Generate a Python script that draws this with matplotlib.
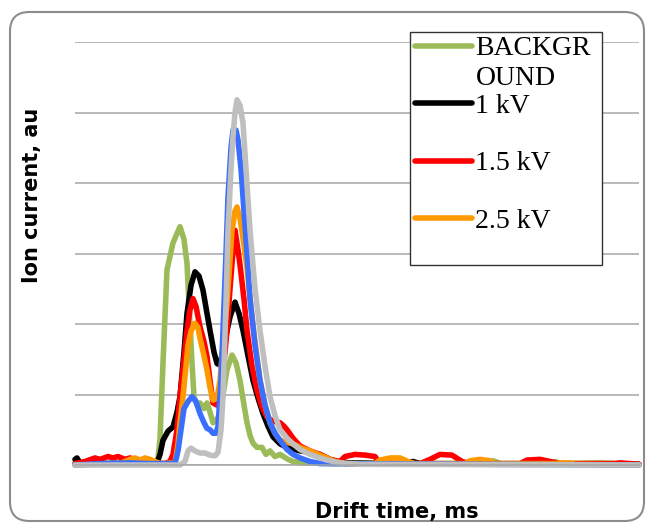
import matplotlib
matplotlib.use("Agg")
import matplotlib.pyplot as plt
from matplotlib.lines import Line2D
from matplotlib.patches import FancyBboxPatch, Rectangle

# ---- data (drift time in ms, ion current in au) ----
bg_t = [0, 1.25, 2.75, 3.75, 4.1, 4.15, 4.25, 4.4, 4.6, 4.9, 5.05, 5.25, 5.45, 5.6, 5.75, 5.85, 5.95,
        6.1, 6.25, 6.45, 6.6, 6.75, 6.9, 7.1, 7.25, 7.4, 7.6, 7.85, 8.05, 8.25, 8.45, 8.6, 8.75,
        8.9, 9.1, 9.35, 9.55, 9.75, 10.0, 10.25, 10.65, 10.9, 11.25, 13.0, 20.5, 20.9, 21.3,
        23.8, 24.0, 24.3, 26.25, 28.2]
bg_i = [0.03, 0.02, 0.03, 0.03, 0.05, 0.1, 0.37, 1.45, 2.77, 3.15, 3.25, 3.38, 3.2, 2.86, 2.0, 1.45, 0.97,
        0.85, 0.88, 0.8, 0.88, 0.75, 0.6, 0.65, 0.73, 1.0, 1.35, 1.56, 1.45, 1.2, 0.85, 0.6, 0.42,
        0.31, 0.25, 0.25, 0.15, 0.2, 0.12, 0.15, 0.08, 0.05, 0.03, 0.02, 0.02, 0.06, 0.02,
        0.02, 0.05, 0.02, 0.03, 0.01]

kv1_t = [0, 0.1, 0.25, 1.25, 3.75, 4.1, 4.25, 4.4, 4.65, 4.9, 5.1, 5.25, 5.45, 5.6, 5.8, 6.0, 6.2,
         6.4, 6.6, 6.75, 6.95, 7.1, 7.25, 7.4, 7.6, 7.75, 8.0, 8.2, 8.4, 8.65, 8.9, 9.15, 9.4,
         9.65, 9.9, 10.25, 10.6, 11.0, 11.25, 11.75, 12.25, 12.75, 13.1, 13.75, 16.25, 16.9,
         17.25, 28.2]
kv1_i = [0.08, 0.1, 0.03, 0.02, 0.02, 0.03, 0.15, 0.35, 0.48, 0.54, 0.75, 0.97, 1.6, 2.15, 2.55, 2.74, 2.68,
         2.48, 2.15, 1.91, 1.6, 1.44, 1.42, 1.63, 1.9, 2.1, 2.31, 2.15, 1.91, 1.55, 1.2, 0.95, 0.73,
         0.55, 0.4, 0.3, 0.25, 0.22, 0.2, 0.18, 0.15, 0.08, 0.05, 0.03, 0.02, 0.05,
         0.02, 0.01]

kv15_t = [0, 0.5, 1.0, 1.25, 1.65, 1.9, 2.15, 2.5, 2.75, 3.25, 3.75, 4.5, 4.75, 4.9, 5.1, 5.25, 5.45,
          5.6, 5.75, 5.9, 6.05, 6.25, 6.45, 6.6, 6.75, 6.9, 7.1, 7.25, 7.4, 7.6, 7.75, 7.85, 8.0,
          8.15, 8.25, 8.45, 8.6, 8.85, 9.1, 9.35, 9.6, 9.9, 10.25, 10.45, 10.6, 10.9, 11.25,
          11.75, 12.25, 12.75, 13.25, 13.5, 14.0, 14.5, 15.0, 15.25, 17.25, 17.75, 18.25,
          18.85, 19.35, 19.75, 22.25, 22.6, 23.25, 23.75, 24.25, 27.0, 27.25, 27.75, 28.2]
kv15_i = [0.02, 0.05, 0.1, 0.08, 0.12, 0.1, 0.12, 0.08, 0.1, 0.05, 0.03, 0.02, 0.05, 0.15, 0.5, 0.97, 1.5,
          1.91, 2.2, 2.36, 2.25, 1.96, 1.75, 1.54, 1.2, 0.88, 0.85, 0.97, 1.3, 1.91, 2.5, 2.86, 3.33,
          3.05, 2.84, 2.35, 1.91, 1.4, 1.06, 0.82, 0.68, 0.62, 0.6, 0.55, 0.5, 0.38, 0.27,
          0.2, 0.15, 0.08, 0.05, 0.12, 0.15, 0.14, 0.12, 0.02, 0.02, 0.08, 0.15,
          0.14, 0.05, 0.02, 0.02, 0.07, 0.08, 0.05, 0.02, 0.02, 0.03, 0.02, 0.01]

kv25_t = [0, 2.25, 2.5, 2.75, 3.0, 3.25, 3.5, 3.75, 4.0, 4.25, 5.0, 5.15, 5.25, 5.4, 5.65, 5.8, 6.0,
          6.15, 6.25, 6.45, 6.6, 6.75, 6.9, 7.1, 7.25, 7.4, 7.6, 7.75, 7.85, 8.0, 8.1, 8.25, 8.4,
          8.6, 8.75, 9.0, 9.25, 9.5, 9.75, 10.0, 10.25, 10.6, 10.9, 11.25, 11.75, 12.25, 12.6,
          13.0, 13.5, 15.0, 15.25, 15.75, 16.25, 16.65, 17.0, 19.5, 19.75, 20.25, 20.75, 21.0,
          24.0, 24.25, 24.75, 25.0, 28.2]
kv25_i = [0.0, 0.02, 0.05, 0.08, 0.1, 0.07, 0.1, 0.08, 0.05, 0.02, 0.03, 0.3, 0.6, 0.97, 1.7, 1.9, 2.01,
          1.95, 1.8, 1.55, 1.35, 1.1, 0.92, 0.95, 1.2, 1.7, 2.3, 2.9, 3.33, 3.6, 3.66, 3.5, 3.22,
          2.8, 2.36, 1.75, 1.2, 0.85, 0.6, 0.45, 0.35, 0.32, 0.3, 0.25, 0.2, 0.14, 0.1,
          0.05, 0.02, 0.02, 0.07, 0.1, 0.1, 0.05, 0.02, 0.02, 0.06, 0.08, 0.06, 0.02,
          0.02, 0.03, 0.03, 0.01, 0.0]

kv3_t = [0, 1.25, 2.75, 3.75, 5.0, 5.15, 5.3, 5.45, 5.65, 5.85, 6.05, 6.25, 6.45, 6.6, 6.75, 6.9,
         7.05, 7.15, 7.3, 7.4, 7.55, 7.65, 7.8, 7.9, 8.05, 8.15, 8.3, 8.4, 8.6, 8.75, 9.0, 9.25,
         9.5, 9.75, 10.0, 10.25, 10.6, 10.9, 11.25, 11.75, 12.25, 28.2]
kv3_i = [0.0, 0.02, 0.03, 0.02, 0.02, 0.2, 0.5, 0.8, 0.9, 0.97, 0.9, 0.73, 0.6, 0.52, 0.5, 0.45,
         0.45, 0.55, 1.2, 1.91, 3.0, 3.8, 4.5, 4.75, 4.75, 4.61, 4.2, 3.8, 3.0, 2.36, 1.7, 1.2,
         0.85, 0.6, 0.45, 0.35, 0.22, 0.15, 0.1, 0.05, 0.02, 0.0]

kv35_t = [0, 5.25, 5.5, 5.65, 5.8, 6.0, 6.25, 6.5, 6.75, 7.0, 7.15, 7.3, 7.4, 7.55, 7.65, 7.8, 7.9,
          8.0, 8.1, 8.25, 8.4, 8.55, 8.75, 9.0, 9.25, 9.5, 9.75, 10.0, 10.25, 10.6, 10.9, 11.25,
          11.75, 12.25, 12.6, 13.25, 14.25, 28.2]
kv35_i = [0.0, 0.0, 0.05, 0.2, 0.24, 0.2, 0.17, 0.17, 0.14, 0.13, 0.18, 0.5, 0.97, 2.3, 3.33, 4.2, 4.66,
          5.0, 5.18, 5.1, 4.85, 4.2, 3.33, 2.5, 1.91, 1.4, 0.97, 0.7, 0.5, 0.38, 0.3, 0.22,
          0.15, 0.1, 0.07, 0.03, 0.01, 0.0]

series_names = ["BACKGROUND", "1 kV", "1.5 kV", "2.5 kV", "3 kV", "3.5 kV"]
legend_labels = ["BACKGR", "1 kV", "1.5 kV", "2.5 kV"]
colors = ["#9BBB59", "#000000", "#FF0000", "#FF9900", "#3A6EFF", "#BFBFBF"]

series = [(bg_t, bg_i), (kv1_t, kv1_i), (kv15_t, kv15_i), (kv25_t, kv25_i),
          (kv3_t, kv3_i), (kv35_t, kv35_i)]

W, H = 647, 526
fig = plt.figure(figsize=(W / 100, H / 100), dpi=100)
fig.patch.set_facecolor("white")

# rounded outer border
border = FancyBboxPatch((10 / W, 1 - 521 / H), 634 / W, 509 / H,
                        boxstyle="round,pad=0,rounding_size=0.03",
                        transform=fig.transFigure, facecolor="none",
                        edgecolor="#8C8C8C", linewidth=1.5, mutation_aspect=W / H)
fig.patches.append(border)

ax = fig.add_axes([75 / W, 1 - 465 / H, 564 / W, 423 / H])
ax.set_xlim(0, 28.2)
ax.set_ylim(0, 6)
ax.set_yticks(range(0, 7))
ax.set_xticks([])
ax.tick_params(axis="y", length=0, labelleft=False)
ax.yaxis.grid(True, color="#A6A6A6", linewidth=1.1)
ax.set_axisbelow(True)
for s in ["top", "right", "left"]:
    ax.spines[s].set_visible(False)
ax.spines["bottom"].set_color("#A6A6A6")
ax.spines["bottom"].set_linewidth(1.1)

for (t, i), c, n in zip(series, colors, series_names):
    ax.plot(t, i, color=c, linewidth=4, label=n, clip_on=False,
            solid_joinstyle="round", solid_capstyle="round")

# legend box
ax.add_patch(Rectangle((410 / W, 1 - 265 / H), 192 / W, 233 / H, transform=fig.transFigure,
                       facecolor="white", edgecolor="#333333", linewidth=1.0,
                       clip_on=False, zorder=4))
handles = [Line2D([0], [0], color=c, linewidth=4, solid_capstyle="round") for c in colors[:4]]
leg = ax.legend(handles, legend_labels, loc="upper left",
                bbox_to_anchor=(415 / W, 1 - 36 / H), bbox_transform=fig.transFigure,
                frameon=False, borderpad=0, borderaxespad=0,
                prop={"family": "Liberation Serif", "size": 20},
                handlelength=2.05, handletextpad=0.1, labelspacing=1.15)
leg.set_zorder(5)
ax.text(476 / W, 1 - 85 / H, "OUND", transform=fig.transFigure, family="Liberation Serif",
        fontsize=20, va="baseline", ha="left", zorder=6)

fig.text(397 / W, 1 - 512 / H, "Drift time, ms", ha="center", va="center",
         fontsize=15, fontweight="bold", family="DejaVu Sans")
fig.text(32 / W, 1 - 195 / H, "Ion current, au", ha="center", va="center", rotation=90,
         fontsize=15, fontweight="bold", family="DejaVu Sans")

fig.savefig("out.png", dpi=100)
